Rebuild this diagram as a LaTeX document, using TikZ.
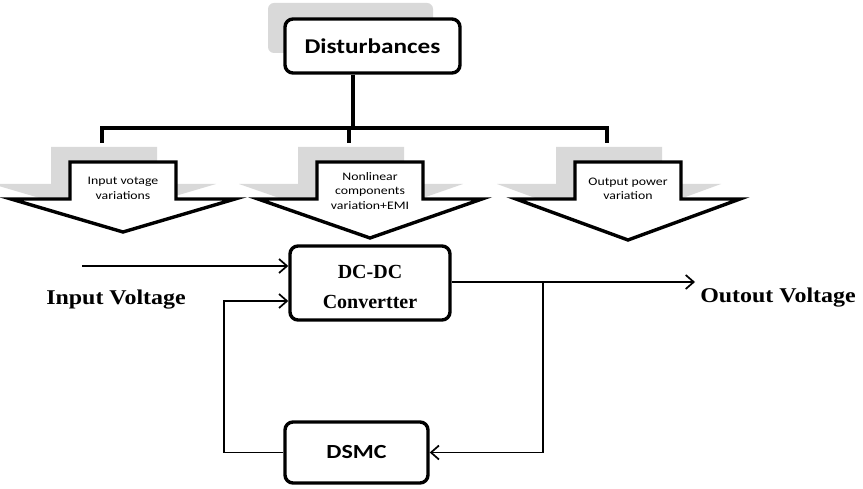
\documentclass[tikz,border=0pt]{standalone}
\usepackage{fontspec}
\setmainfont{Liberation Serif}
\newfontfamily\calib[FakeStretch=1.2]{Carlito}
\newfontfamily\widefont[FakeStretch=1.14]{Liberation Serif}
\usetikzlibrary{arrows.meta,positioning}
\definecolor{shadowgray}{RGB}{217,217,217}

\tikzset{
  block/.style={draw, line width=3.4pt, rounded corners=8pt, fill=white},
  busline/.style={line width=3.6pt},
  link/.style={line width=1.8pt, -{Straight Barb[length=8pt,width=14pt,line width=1.7pt]}},
  varytext/.style={font=\calib\fontsize{11.5}{14.5}\selectfont, align=center},
  sidelabel/.style={font=\widefont\bfseries\fontsize{21}{24}\selectfont},
}
\newcommand\lowered[1]{\raisebox{-4pt}[\height][\depth]{#1}}

\begin{document}
\begin{tikzpicture}[x=1pt,y=-1pt]
\useasboundingbox (0,0) rectangle (863,489);

% Disturbances block with its shadow
\fill[shadowgray, rounded corners=6pt] (268,3) rectangle (433,53);
\node[block, minimum width=175pt, minimum height=54pt,
      font=\calib\bfseries\fontsize{21}{24}\selectfont] (dist) at (372.5,46) {Disturbances};

% Disturbance arrows
\foreach \cx/\tip/\ty/\nm/\txt in {123/232/188.5/inv/{Input votage\\variations},
                                  370/238/191/nonlin/{Nonlinear\\components\\variation+EMI},
                                  628/240/189/outp/{Output power\\variation}}{
  \fill[shadowgray, shift={(-19,-15)}]
    ({\cx-53},162) -- ({\cx+53},162) -- ({\cx+53},199) -- ({\cx+112},199)
    -- (\cx,\tip) -- ({\cx-112},199) -- ({\cx-53},199) -- cycle;
  \draw[line width=3.4pt, fill=white, line join=miter]
    ({\cx-53},162) -- ({\cx+53},162) -- ({\cx+53},199) -- ({\cx+112},199)
    -- (\cx,\tip) -- ({\cx-112},199) -- ({\cx-53},199) -- cycle;
  \node[varytext] (\nm) at (\cx,\ty) {\txt};
  \coordinate (\nm top) at ({\cx-21},143);
}

% Bus from Disturbances
\coordinate (bus) at (353,128);
\draw[busline] (dist.south -| bus) -- (bus);
\draw[busline] (invtop) |- (bus) -| (outptop);
\draw[busline] (nonlintop) -- (nonlintop |- bus);

% Converter and controller
\node[block, minimum width=160pt, minimum height=74pt, align=center,
      font=\bfseries\fontsize{20}{30}\selectfont] (conv) at (370,283) {\lowered{DC-DC}\\\lowered{Convertter}};
\node[block, minimum width=143pt, minimum height=61pt,
      font=\calib\bfseries\fontsize{20}{24}\selectfont] (dsmc) at (356.5,452.5) {DSMC};

% Signal labels
\node[sidelabel] (vinlabel) at (116,300) {Input Voltage};
\node[sidelabel] (voutlabel) at (778,298) {Outout Voltage};

% Connections
\coordinate (vin) at (82,266);
\coordinate (vout) at (695,282);
\coordinate (tap) at (543,282);
\coordinate (fb) at (224,301);
\draw[link] (vin) -- (vin -| conv.west);
\draw[link] (conv.east |- vout) -- (vout);
\draw[link] (tap) |- (dsmc.east);
\draw[link] (dsmc.west) -| (fb) -- (fb -| conv.west);
\end{tikzpicture}
\end{document}
